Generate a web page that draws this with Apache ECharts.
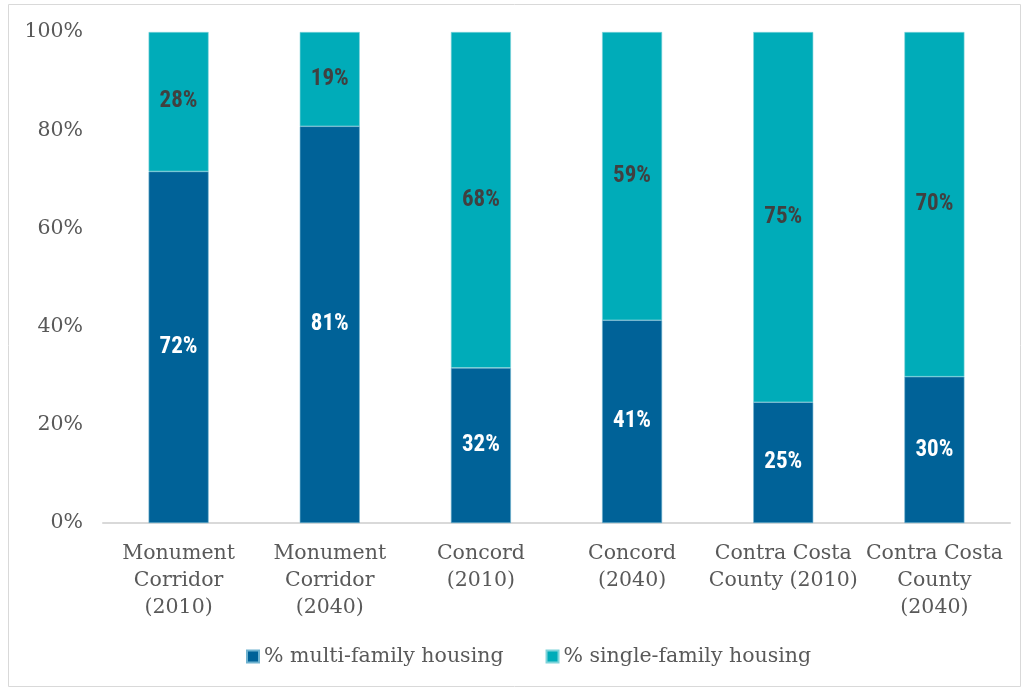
<!DOCTYPE html>
<html>
<head>
<meta charset="utf-8">
<script src="https://cdn.jsdelivr.net/npm/echarts@6/dist/echarts.min.js"></script>
<style>
  html, body { margin: 0; padding: 0; background: #fff; }
  #chart { width: 1028px; height: 692px; }
</style>
</head>
<body>
<div id="chart"></div>
<script>
const categories = [
  "Monument\nCorridor\n(2010)",
  "Monument\nCorridor\n(2040)",
  "Concord\n(2010)",
  "Concord\n(2040)",
  "Contra Costa\nCounty (2010)",
  "Contra Costa\nCounty\n(2040)"
];
const multiFamily = [71.6, 80.8, 31.6, 41.3, 24.6, 29.8];
const singleFamily = [28.4, 19.2, 68.4, 58.7, 75.4, 70.2];
const yTicks = [0, 20, 40, 60, 80, 100];

const serif = "Georgia, 'DejaVu Serif', serif";
const narrow = "'Liberation Sans Narrow', 'Arial Narrow', 'Roboto Condensed', sans-serif";

let myEcharts = echarts.init(document.getElementById("chart"));

let option = {
  animation: false,
  graphic: [
    {
      type: "rect",
      shape: { x: 8.5, y: 4.5, width: 1012, height: 682 },
      style: { fill: "none", stroke: "#d9d9d9", lineWidth: 1 }
    }
  ],
  grid: { left: 103, right: 18, top: 32, bottom: 169 },
  legend: {
    bottom: 20,
    left: 241,
    itemWidth: 12,
    itemHeight: 12,
    itemGap: 42,
    icon: "rect",
    textStyle: { fontFamily: serif, fontSize: 20.5, color: "#595959" }
  },
  xAxis: {
    type: "category",
    data: categories,
    axisTick: { show: false },
    axisLine: { lineStyle: { color: "#d9d9d9", width: 2 } },
    axisLabel: {
      fontFamily: serif,
      fontSize: 20.5,
      color: "#595959",
      lineHeight: 27,
      margin: 17,
      interval: 0
    }
  },
  yAxis: {
    type: "value",
    min: yTicks[0],
    max: yTicks[yTicks.length - 1],
    interval: 20,
    axisLine: { show: false },
    axisTick: { show: false },
    splitLine: { show: false },
    axisLabel: {
      fontFamily: serif,
      fontSize: 20.5,
      color: "#595959",
      margin: 20,
      formatter: "{value}%"
    }
  },
  series: [
    {
      name: "% multi-family housing",
      type: "bar",
      stack: "total",
      barWidth: 60,
      data: multiFamily,
      itemStyle: { color: "#006298", borderColor: "#6fb2cf", borderWidth: 0.6 },
      label: {
        show: true,
        position: "inside",
        fontFamily: narrow,
        fontWeight: "bold",
        fontSize: 23,
        color: "#ffffff",
        formatter: p => Math.round(p.value) + "%"
      }
    },
    {
      name: "% single-family housing",
      type: "bar",
      stack: "total",
      barWidth: 60,
      data: singleFamily,
      itemStyle: { color: "#00acb9", borderColor: "#7fd3da", borderWidth: 0.6 },
      label: {
        show: true,
        position: "inside",
        fontFamily: narrow,
        fontWeight: "bold",
        fontSize: 23,
        color: "#404040",
        formatter: p => Math.round(p.value) + "%"
      }
    }
  ]
};

myEcharts.setOption(option);
</script>
</body>
</html>
